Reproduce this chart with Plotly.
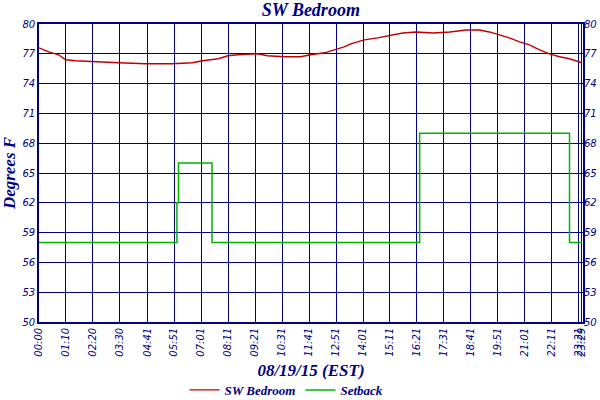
# coding: utf-8
import plotly.graph_objects as go

NAVY = "#000080"

# Temperature readings, 08/19/15 (EST)
temp_times = ["00:00", "00:25", "00:51", "01:09", "01:35", "02:19", "03:27", "04:37",
              "05:46", "06:38", "07:04", "07:46", "08:10", "08:36", "09:27", "09:53",
              "10:37", "11:19", "11:45", "12:21", "12:50", "13:12", "13:29", "14:04",
              "14:39", "15:13", "15:44", "16:19", "17:02", "17:46", "18:29", "19:03",
              "19:29", "19:55", "20:21", "20:47", "21:13", "21:39", "22:05", "22:31",
              "22:57", "23:29"]
temp_values = [77.6, 77.2, 76.9, 76.4, 76.3, 76.2, 76.1, 76.0,
               76.0, 76.1, 76.3, 76.5, 76.8, 76.9, 77.0, 76.8,
               76.7, 76.7, 76.9, 77.1, 77.4, 77.7, 78.0, 78.4,
               78.6, 78.9, 79.1, 79.2, 79.1, 79.2, 79.4, 79.4,
               79.2, 78.9, 78.6, 78.2, 77.9, 77.4, 77.0, 76.7,
               76.5, 76.1]

# Setback schedule
setback_times = ["00:00", "05:58", "06:02", "07:29", "16:28", "22:57", "23:29"]
setback_values = [58, 62, 66, 58, 69, 58, 58]

tick_labels = ["00:00", "01:10", "02:20", "03:30", "04:41", "05:51", "07:01", "08:11",
               "09:21", "10:31", "11:41", "12:51", "14:01", "15:11", "16:21", "17:31",
               "18:41", "19:51", "21:01", "22:11", "23:21", "23:29"]
y_ticks = [50, 53, 56, 59, 62, 65, 68, 71, 74, 77, 80]


def to_min(t):
    h, m = t.split(":")
    return int(h) * 60 + int(m)


fig = go.Figure()
fig.add_trace(go.Scatter(x=[to_min(t) for t in temp_times], y=temp_values, mode="lines",
                         name="SW Bedroom", line=dict(color="#c00000", width=1.4)))
fig.add_trace(go.Scatter(x=[to_min(t) for t in setback_times], y=setback_values, mode="lines",
                         name="Setback", yaxis="y2", line=dict(color="#00b400", width=1.5, shape="hv")))

tickfont = dict(family="DejaVu Sans", size=10, color=NAVY, style="italic")
serif = "Liberation Serif"

fig.update_layout(
    width=600, height=400,
    margin=dict(l=39, r=17, t=24, b=78, autoexpand=False),
    paper_bgcolor="white", plot_bgcolor="white",
    title=dict(text="SW Bedroom", x=0.518, xanchor="center", y=0.975, yanchor="middle",
               font=dict(family=serif, size=18, color=NAVY, weight="bold", style="italic")),
    xaxis=dict(range=[0, 1412], tickvals=[to_min(t) for t in tick_labels], ticktext=tick_labels,
               tickangle=-90, tickfont=tickfont, ticks="", showgrid=True, gridcolor=NAVY, gridwidth=1.4,
               showline=True, linecolor=NAVY, linewidth=1.6, mirror=True, zeroline=False,
               automargin=False,
               title=dict(text="08/19/15 (EST)", standoff=8,
                          font=dict(family=serif, size=17, color=NAVY, weight="bold", style="italic"))),
    yaxis=dict(range=[50, 80], tickvals=y_ticks, tickfont=tickfont, ticks="", showgrid=True,
               gridcolor=NAVY, gridwidth=1.4, showline=True, linecolor=NAVY, linewidth=1.6,
               mirror=True, zeroline=False, automargin=False,
               title=dict(text="Degrees F", standoff=4,
                          font=dict(family=serif, size=17, color=NAVY, weight="bold", style="italic"))),
    yaxis2=dict(range=[50, 80], tickvals=y_ticks, tickfont=tickfont, ticks="", overlaying="y",
                side="right", showgrid=False, zeroline=False, automargin=False),
    legend=dict(orientation="h", x=0.455, xanchor="center", y=-0.228, yanchor="middle",
                font=dict(family=serif, size=13, color=NAVY, weight="bold", style="italic"),
                itemwidth=30),
    showlegend=True,
)

# drop the page's default body margin so the 600x400 figure fills the window
fig.write_html("out.html", config={"displayModeBar": False},
               post_script="document.body.style.margin = '0';")
